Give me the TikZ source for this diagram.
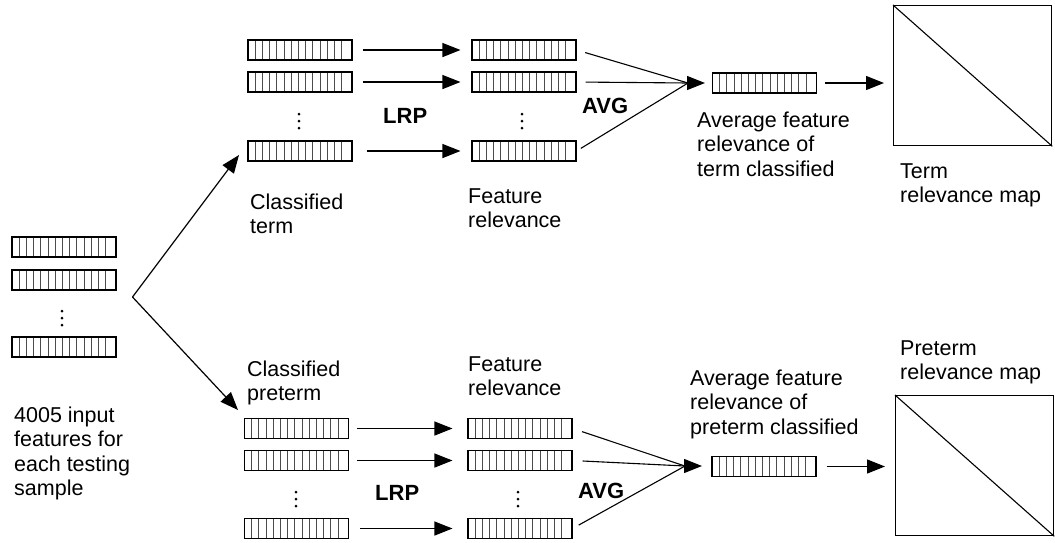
\documentclass[tikz,border=0pt]{standalone}
\usepackage{fontspec}
\setmainfont{Liberation Sans}
\usetikzlibrary{arrows.meta}
\begin{document}
\begin{tikzpicture}[x=1pt,y=-1pt,
  featbar/.style={draw, line width=1.1pt, inner sep=0pt, minimum width=104pt, minimum height=20pt,
    path picture={\foreach \i in {1,...,13}{\draw[line width=0.9pt, black!70] ([xshift=\i*7.2pt]path picture bounding box.south west) -- ([xshift=\i*7.2pt]path picture bounding box.north west);}}},
  lbl/.style={anchor=base west, align=left, inner sep=0pt, font=\fontsize{21.5}{24.5}\selectfont},
  op/.style={anchor=base west, inner sep=0pt, font=\fontsize{22}{26}\selectfont\bfseries},
  arr/.style={line width=1.2pt, -{Triangle[length=18pt,width=14pt]}},
  ln/.style={line width=1.1pt},
  mapbox/.style={draw, line width=1.3pt, inner sep=0pt, minimum width=158pt, minimum height=140pt, anchor=north west}
]
\useasboundingbox (0,0) rectangle (1055,542);

% input column
\node[featbar] (in1) at (64,247) {};
\node[featbar] (in2) at (64,280) {};
\node[featbar] (in3) at (64,347) {};
\foreach \d in {0,7,14} \fill ({62},{311+\d}) circle (1.5pt);
\node[lbl] (intxt) at (14,495.5) {4005 input\\features for\\each testing\\sample};

% fork
\coordinate (fork) at (132.5,297);
\coordinate (tipT) at (239,155);
\coordinate (tipB) at (238,410);
\draw[arr] (fork) -- (tipT);
\draw[arr] (fork) -- (tipB);

% ---------- top branch ----------
\node[featbar] (t1) at (300,50) {};
\node[featbar] (t2) at (300,82) {};
\node[featbar] (t3) at (300,151) {};
\foreach \d in {0,7,14} \fill ({299},{114+\d}) circle (1.5pt);
\node[lbl] (ttermtxt) at (250,233.5) {Classified\\term};

\node[featbar] (f1) at (524,50) {};
\node[featbar] (f2) at (524,82) {};
\node[featbar] (f3) at (524,151) {};
\foreach \d in {0,7,14} \fill ({522},{114+\d}) circle (1.5pt);
\node[lbl] (tfeattxt) at (468,227.5) {Feature\\relevance};

\draw[arr, shorten <=10pt, shorten >=11pt] (t1) -- (f1);
\draw[arr, shorten <=10pt, shorten >=11pt] (t2) -- (f2);
\draw[arr, shorten <=14pt, shorten >=11pt] (t3) -- (f3);
\node[op] (lrpT) at (383,123) {LRP};

\coordinate (convT) at (688,83);
\coordinate (convTtip) at (705,83);
\draw[ln, shorten <=9pt] (f1.east) -- (convT);
\draw[ln, shorten <=9pt] (f2.east) -- (convT);
\draw[ln, shorten <=5pt] (f3.east) -- (convT);
\draw[arr] (convT) -- (convTtip);
\node[op] (avgT) at (582,113) {AVG};

\node[featbar] (at) at (764.5,83) {};
\node[lbl] (attxt) at (697,176) {Average feature\\relevance of\\term classified};

\node[mapbox] (mapT) at (893,5) {};
\draw[ln] (mapT.north west) -- (mapT.south east);
\draw[arr, shorten <=8pt, shorten >=9pt] (at.east) -- (mapT.west |- at.east);
\node[lbl] (maptxtT) at (900,202.5) {Term\\relevance map};

% ---------- bottom branch ----------
\node[featbar] (p1) at (296.5,428.5) {};
\node[featbar] (p2) at (296.5,460.5) {};
\node[featbar] (p3) at (296.5,528.5) {};
\foreach \d in {0,7,14} \fill ({296},{492+\d}) circle (1.5pt);
\node[lbl] (ptermtxt) at (247,400.5) {Classified\\preterm};

\node[featbar] (g1) at (520,428.5) {};
\node[featbar] (g2) at (520,460.5) {};
\node[featbar] (g3) at (520,528.5) {};
\foreach \d in {0,7,14} \fill ({518},{492+\d}) circle (1.5pt);
\node[lbl] (pfeattxt) at (468,395.5) {Feature\\relevance};

\draw[arr, shorten <=8pt, shorten >=15pt] (p1) -- (g1);
\draw[arr, shorten <=8pt, shorten >=15pt] (p2) -- (g2);
\draw[arr, shorten <=11pt, shorten >=15pt] (p3) -- (g3);
\node[op] (lrpB) at (375,500) {LRP};

\coordinate (convB) at (685,466);
\coordinate (convBtip) at (702,466);
\draw[ln, shorten <=10pt] (g1.east) -- (convB);
\draw[ln, shorten <=10pt] (g2.east) -- (convB);
\draw[ln, shorten <=7pt] (g3.east) -- (convB);
\draw[arr] (convB) -- (convBtip);
\node[op] (avgB) at (578,498) {AVG};

\node[featbar] (ab) at (764,466.5) {};
\node[lbl] (abtxt) at (690,434) {Average feature\\relevance of\\preterm classified};

\node[mapbox] (mapB) at (895,395) {};
\draw[ln] (mapB.north west) -- (mapB.south east);
\draw[arr, shorten <=10pt, shorten >=10pt] (ab.east) -- (mapB.west |- ab.east);
\node[lbl] (maptxtB) at (900,379.5) {Preterm\\relevance map};
\end{tikzpicture}
\end{document}
